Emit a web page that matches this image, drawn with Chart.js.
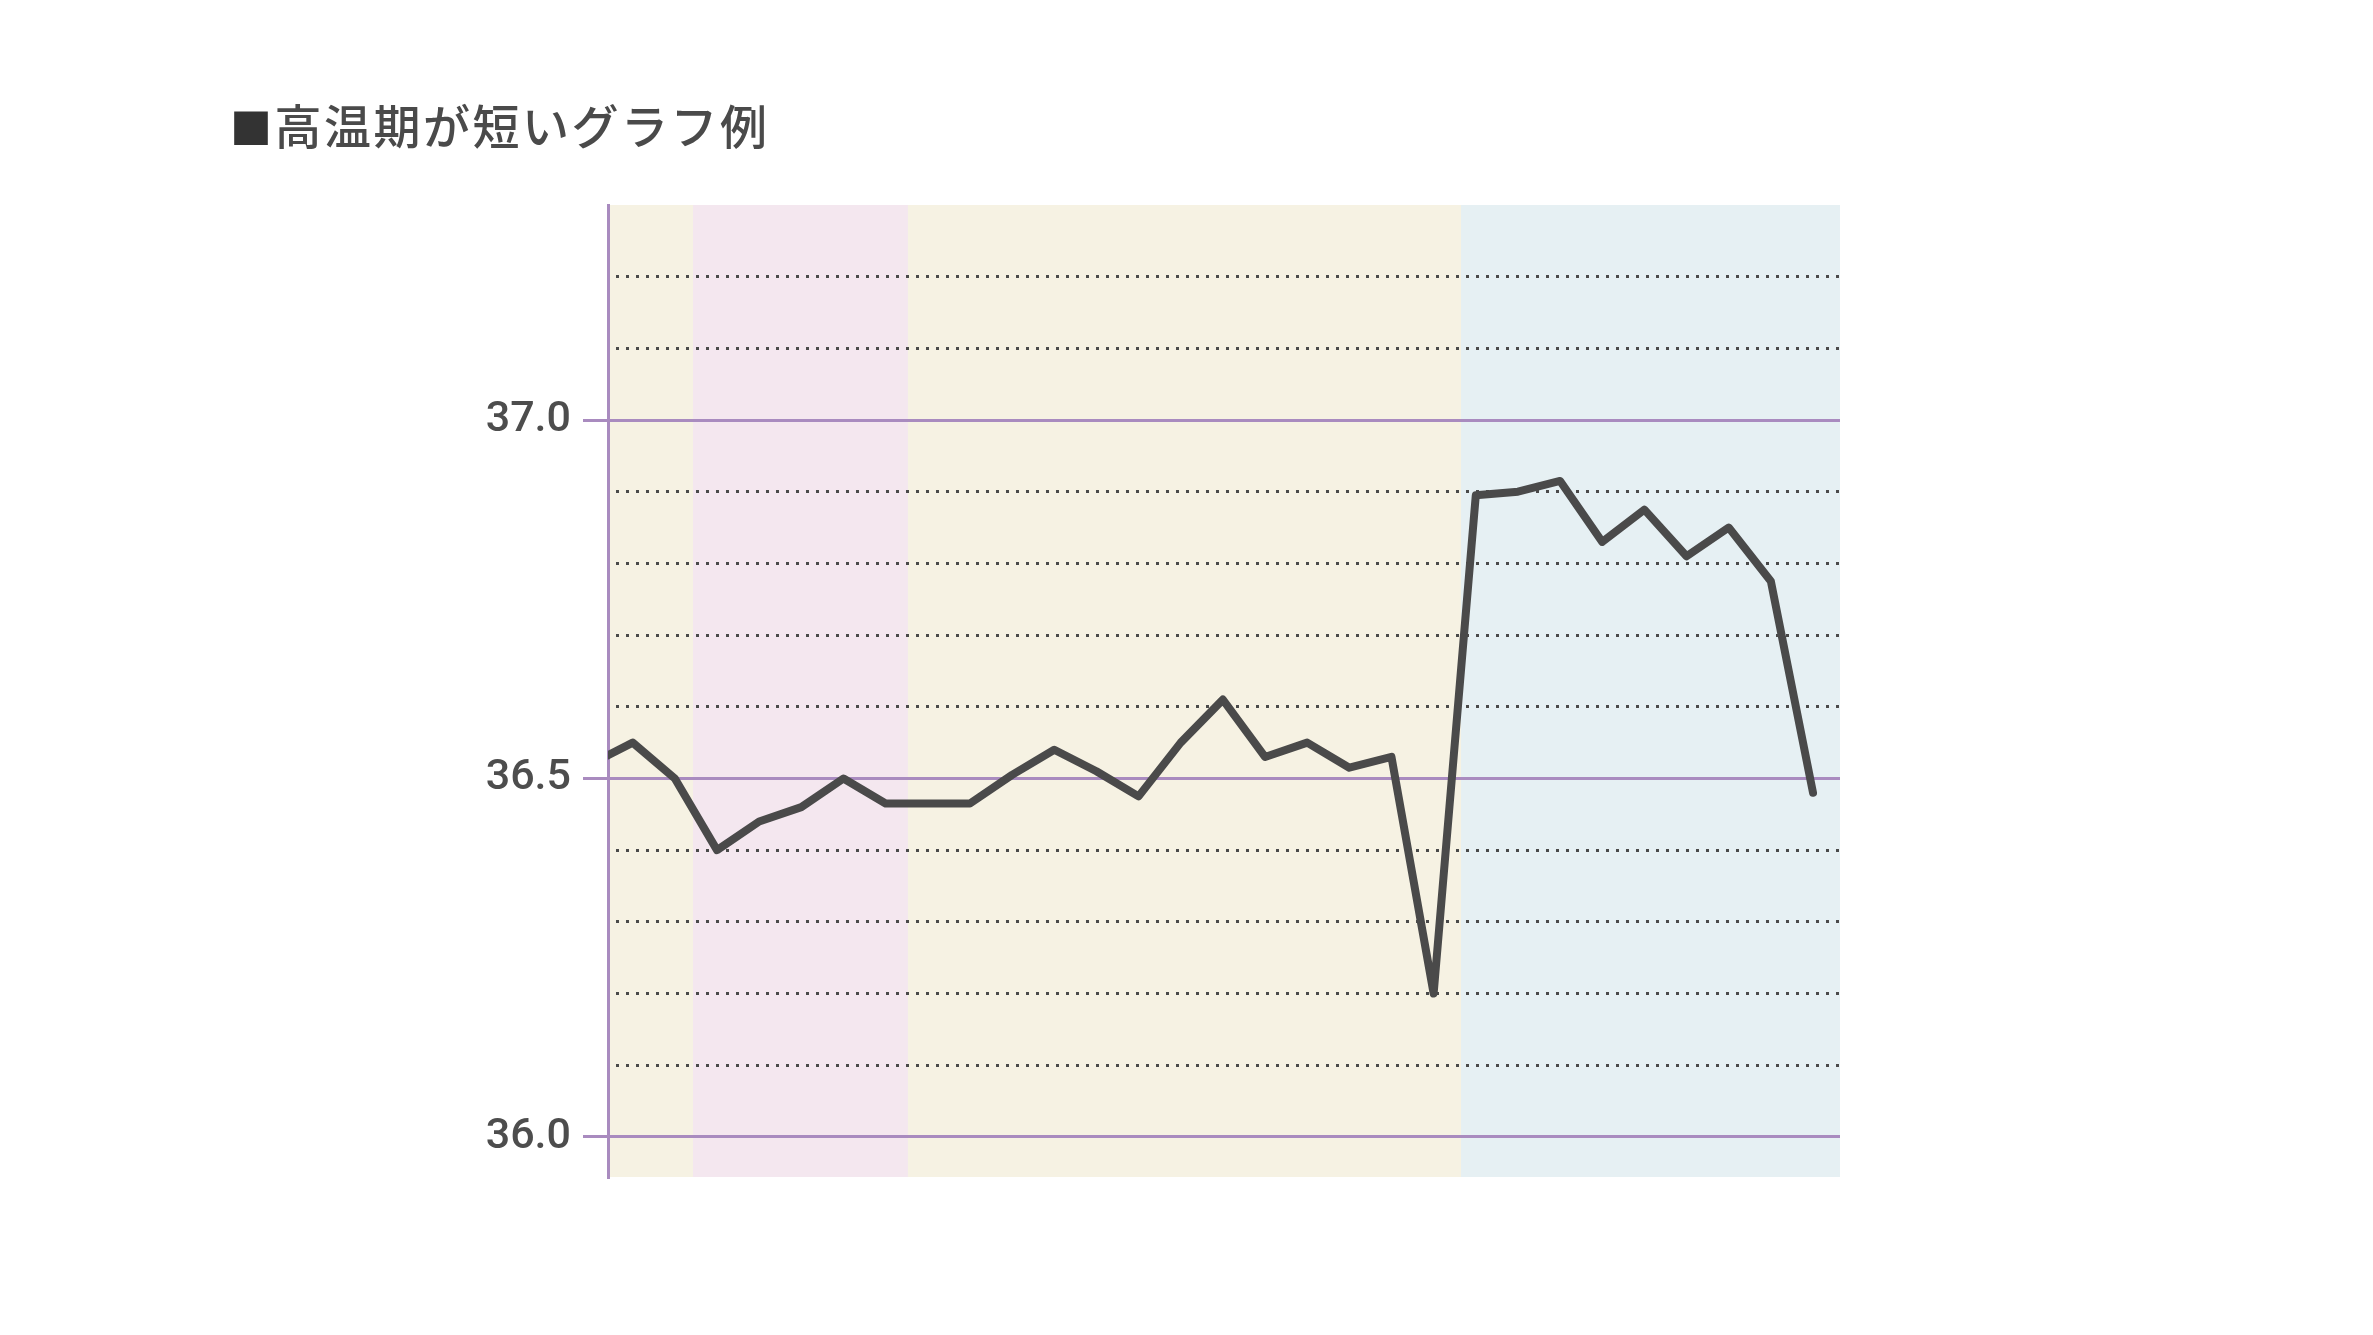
<!DOCTYPE html>
<html lang="ja">
<head>
<meta charset="utf-8">
<title>高温期が短いグラフ例</title>
<script src="https://cdn.jsdelivr.net/npm/chart.js@4.4.1/dist/chart.umd.min.js"></script>
<style>
  html, body { margin: 0; padding: 0; background: #fff; }
  #wrap { position: relative; width: 2373px; height: 1335px; }
  #title {
    position: absolute; left: 230px; top: 99px;
    font: 500 47px/50px "Noto Sans CJK JP", sans-serif;
    color: #4a4a4a; white-space: nowrap; letter-spacing: 2.5px;
  }
  #title span { color: #333; font-size: 42px; }
</style>
</head>
<body>
<div id="wrap">
  <div id="title"><span>■</span>高温期が短いグラフ例</div>
  <canvas id="chart" width="2373" height="1335"></canvas>
</div>
<script>
// cycle days and basal temperature (day 0 sits left of the axis and is clipped)
const days  = [0, 1, 2, 3, 4, 5, 6, 7, 8, 9, 10, 11, 12, 13, 14, 15, 16, 17, 18, 19,
               20, 21, 22, 23, 24, 25, 26, 27, 28, 29];
const temps = [36.52, 36.55, 36.50, 36.40, 36.44, 36.46, 36.50, 36.465, 36.465, 36.465,
               36.505, 36.54, 36.51, 36.475, 36.55, 36.61, 36.53, 36.55, 36.515, 36.53,
               36.20, 36.895, 36.90, 36.915, 36.83, 36.875, 36.81, 36.85, 36.775, 36.48];

// phase bands along the day axis
const bandEdges  = [0.414, 2.43, 7.53, 20.65, 29.64];
const bandColors = ["#f6f2e3", "#f4e7ef", "#f6f2e3", "#e6f0f3"];

// y grid every 0.1, labels only on these
const gridValues  = [36.0, 36.1, 36.2, 36.3, 36.4, 36.5, 36.6, 36.7, 36.8, 36.9, 37.0, 37.1, 37.2];
const labelValues = [36.0, 36.5, 37.0];

const isLabelled = v => labelValues.some(l => Math.abs(l - v) < 1e-6);
const PURPLE = "#a98bbf";

const bandsPlugin = {
  id: "bands",
  beforeDraw(chart) {
    const { ctx, chartArea: a, scales: { x } } = chart;
    ctx.save();
    bandColors.forEach((c, i) => {
      const x1 = x.getPixelForValue(bandEdges[i]);
      const x2 = x.getPixelForValue(bandEdges[i + 1]);
      ctx.fillStyle = c;
      ctx.fillRect(x1, a.top, x2 - x1, a.bottom - a.top);
    });
    ctx.restore();
  }
};

new Chart(document.getElementById("chart"), {
  type: "line",
  data: {
    datasets: [{
      data: days.map((d, i) => ({ x: d, y: temps[i] })),
      borderColor: "#4a4a4a",
      borderWidth: 8,
      borderCapStyle: "round",
      borderJoinStyle: "round",
      pointRadius: 0,
      tension: 0,
      clip: 0
    }]
  },
  options: {
    responsive: false,
    devicePixelRatio: 1,
    animation: false,
    layout: { padding: { left: 0, top: 205, right: 533, bottom: 158 } },
    plugins: { legend: { display: false }, tooltip: { enabled: false } },
    scales: {
      x: { type: "linear", min: 0.414, max: 29.64, display: false },
      y: {
        min: 35.944, max: 37.3,
        afterFit(s) { s.width = 608; },
        afterBuildTicks(s) { s.ticks = gridValues.map(v => ({ value: v })); },
        ticks: {
          padding: 12,
          color: "#4d4d4d",
          font: { family: "Roboto, sans-serif", size: 43, weight: 500 },
          callback: v => isLabelled(v) ? v.toFixed(1) : ""
        },
        grid: {
          color: c => isLabelled(c.tick.value) ? PURPLE : "#4a4a4a",
          lineWidth: 3,
          tickLength: 25,
          tickWidth: 3,
          tickColor: c => isLabelled(c.tick.value) ? PURPLE : "rgba(0,0,0,0)"
        },
        border: {
          color: PURPLE,
          width: 3,
          dash: c => (c.tick && !isLabelled(c.tick.value)) ? [3, 7] : [],
          dashOffset: 4
        }
      }
    }
  },
  plugins: [bandsPlugin]
});
</script>
</body>
</html>
